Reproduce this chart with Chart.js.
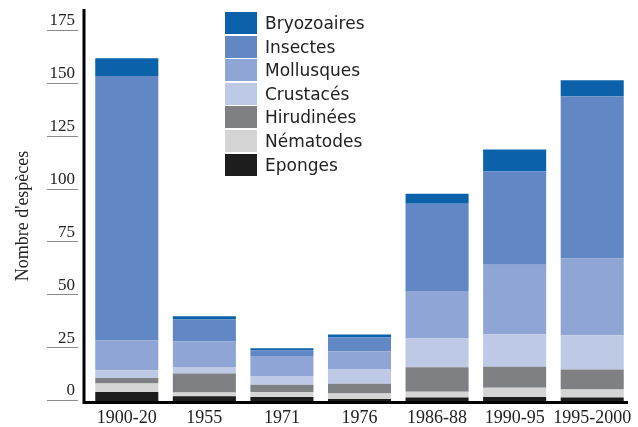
<!DOCTYPE html>
<html>
<head>
<meta charset="utf-8">
<script src="https://cdn.jsdelivr.net/npm/chart.js@4"></script>
<style>
  body { margin: 0; background: #fff; }
  #wrap { position: relative; width: 638px; height: 427px; }
  #legend { position: absolute; left: 225px; top: 12px; font-family: "DejaVu Sans", sans-serif; font-size: 17px; color: #222; }
  .row { display: flex; align-items: center; height: 22px; margin-bottom: 1.6px; }
  .sw { width: 32px; height: 22px; margin-right: 8px; }
</style>
</head>
<body>
<div id="wrap">
  <canvas id="chart" width="638" height="427"></canvas>
  <div id="legend"></div>
</div>
<script>
// ── Data ─────────────────────────────────────────────────────
const categories  = ["1900-20", "1955", "1971", "1976", "1986-88", "1990-95", "1995-2000"];
const eponges     = [4.3, 2.2, 1.9, 0.9, 1.6, 1.9, 1.6];
const nematodes   = [4.0, 1.8, 2.2, 2.6, 2.8, 4.4, 3.8];
const hirudinees  = [2.6, 9.0, 3.6, 4.7, 11.6, 9.9, 9.5];
const crustaces   = [3.6, 3.1, 4.1, 6.9, 13.6, 15.3, 16.2];
const mollusques  = [14.2, 12.0, 9.5, 8.4, 22.4, 33.0, 36.4];
const insectes    = [125.0, 10.4, 2.7, 6.5, 41.3, 44.0, 76.6];
const bryozoaires = [8.4, 1.6, 0.9, 1.4, 4.7, 10.4, 7.6];
const yTicks      = [0, 25, 50, 75, 100, 125, 150, 175];

// bottom → top
const series = [
  { label: "Eponges",     data: eponges,     color: "#1d1d1d" },
  { label: "Nématodes",   data: nematodes,   color: "#d5d5d5" },
  { label: "Hirudinées",  data: hirudinees,  color: "#7f8083" },
  { label: "Crustacés",   data: crustaces,   color: "#bec9e6" },
  { label: "Mollusques",  data: mollusques,  color: "#8fa5d5" },
  { label: "Insectes",    data: insectes,    color: "#6187c5" },
  { label: "Bryozoaires", data: bryozoaires, color: "#0b62ab" },
];

const serif = "'Liberation Serif', 'Times New Roman', serif";

// ── Axis lines + short tick marks ────────────────────────────
const axisLines = {
  id: "axisLines",
  afterDraw(chart) {
    const { ctx, chartArea: a, scales: { y } } = chart;
    ctx.save();
    ctx.strokeStyle = "#8c8c8c";
    ctx.lineWidth = 1;
    y.ticks.forEach((t, i) => {
      const py = Math.round(y.getPixelForTick(i)) - 0.5;
      ctx.beginPath();
      ctx.moveTo(a.left - 41, py);
      ctx.lineTo(a.left - 10, py);
      ctx.stroke();
    });
    ctx.strokeStyle = "#000";
    ctx.lineWidth = 3;
    ctx.beginPath();
    ctx.moveTo(a.left - 4, 9);
    ctx.lineTo(a.left - 4, a.bottom + 1.5);
    ctx.lineTo(a.right - 3, a.bottom + 1.5);
    ctx.stroke();
    ctx.restore();
  }
};

const chart = new Chart(document.getElementById("chart"), {
  type: "bar",
  data: {
    labels: categories,
    datasets: series.map(s => ({
      label: s.label,
      data: s.data,
      backgroundColor: s.color,
      borderWidth: 0,
      barPercentage: 1,
      categoryPercentage: 0.813,
    })),
  },
  options: {
    responsive: false,
    animation: false,
    devicePixelRatio: 1,
    layout: { padding: { top: 31, right: 7, left: 0, bottom: 0 } },
    plugins: { legend: { display: false }, tooltip: { enabled: false } },
    scales: {
      x: {
        stacked: true,
        afterFit: s => { s.height = 26; },
        grid: { display: false, drawTicks: false },
        border: { display: false },
        ticks: { padding: 6, color: "#222", autoSkip: false, maxRotation: 0, font: { family: serif, size: 18 } },
      },
      y: {
        stacked: true,
        min: 0,
        max: 175,
        afterBuildTicks: s => { s.ticks = yTicks.map(v => ({ value: v })); },
        afterFit: s => { s.width = 88; },
        grid: { display: false, drawTicks: false },
        border: { display: false },
        ticks: { padding: 13, labelOffset: -10, color: "#222", font: { family: serif, size: 17 } },
        title: {
          display: true,
          text: "Nombre d'espèces",
          color: "#222",
          font: { family: serif, size: 18 },
          padding: { top: 12, bottom: 0 },
        },
      },
    },
  },
  plugins: [axisLines],
});

// ── HTML legend (top entry = top of stack) ───────────────────
const legend = document.getElementById("legend");
chart.data.datasets.slice().reverse().forEach(ds => {
  const row = document.createElement("div");
  row.className = "row";
  row.innerHTML = `<div class="sw" style="background:${ds.backgroundColor}"></div><span>${ds.label}</span>`;
  legend.appendChild(row);
});
</script>
</body>
</html>
